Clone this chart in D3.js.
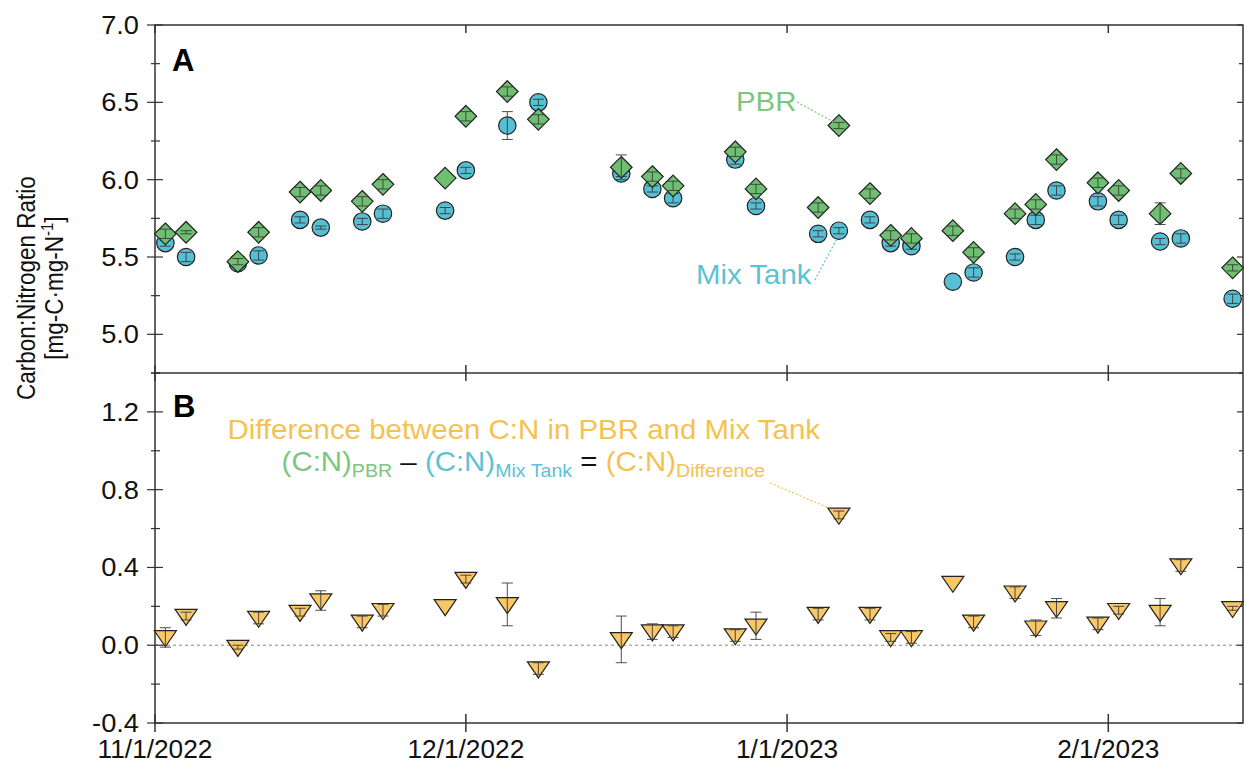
<!DOCTYPE html>
<html>
<head>
<meta charset="utf-8">
<script src="https://cdn.jsdelivr.net/npm/d3@7"></script>
<style>
  html, body { margin: 0; padding: 0; background: #fff; }
  svg { display: block; font-family: "Liberation Sans", Arial, sans-serif; }
</style>
</head>
<body>
<svg id="chart" width="1244" height="763"></svg>
<script>
// ---------------- DATA ----------------
const dates = ["2022-11-02","2022-11-04","2022-11-09","2022-11-11","2022-11-15","2022-11-17","2022-11-21","2022-11-23","2022-11-29","2022-12-01","2022-12-05","2022-12-08","2022-12-16","2022-12-19","2022-12-21","2022-12-27","2022-12-29","2023-01-04","2023-01-06","2023-01-09","2023-01-11","2023-01-13","2023-01-17","2023-01-19","2023-01-23","2023-01-25","2023-01-27","2023-01-31","2023-02-02","2023-02-06","2023-02-08","2023-02-13"];
const pbrCN = [5.65,5.66,5.47,5.66,5.92,5.93,5.86,5.97,6.01,6.41,6.57,6.39,6.08,6.02,5.96,6.18,5.94,5.82,6.35,5.91,5.64,5.62,5.67,5.53,5.78,5.84,6.13,5.98,5.93,5.78,6.04,5.43];
const pbrErr = [0.03,0.01,0.02,0.03,0.03,0.03,0.03,0.03,0.0,0.03,0.03,0.03,0.08,0.03,0.03,0.03,0.03,0.03,0.02,0.03,0.03,0.03,0.03,0.03,0.03,0.03,0.03,0.03,0.03,0.07,0.03,0.02];
const mixCN = [5.59,5.50,5.46,5.51,5.74,5.69,5.73,5.78,5.80,6.06,6.35,6.50,6.04,5.94,5.88,6.13,5.83,5.65,5.67,5.74,5.59,5.57,5.34,5.40,5.50,5.74,5.93,5.86,5.74,5.60,5.62,5.23];
const mixErr = [0.02,0.03,0.02,0.03,0.02,0.01,0.02,0.03,0.02,0.02,0.09,0.02,0.02,0.02,0.03,0.03,0.02,0.02,0.02,0.02,0.02,0.02,0.0,0.03,0.02,0.03,0.03,0.03,0.03,0.02,0.03,0.03];
const diffCN = [0.04,0.15,-0.01,0.14,0.17,0.23,0.12,0.18,0.20,0.34,0.21,-0.12,0.03,0.07,0.07,0.05,0.10,0.16,0.67,0.16,0.04,0.04,0.32,0.12,0.27,0.09,0.19,0.11,0.18,0.17,0.41,0.19];
const diffErr = [0.05,0.02,0.01,0.03,0.02,0.05,0.03,0.03,0.0,0.02,0.11,0.03,0.12,0.04,0.03,0.03,0.07,0.03,0.02,0.03,0.02,0.03,0.0,0.03,0.03,0.04,0.05,0.03,0.02,0.07,0.03,0.01];
const xTickDates = ["2022-11-01","2022-12-01","2023-01-01","2023-02-01"];
const xTickLabels = ["11/1/2022","12/1/2022","1/1/2023","2/1/2023"];
const yTicksA = [5.0,5.5,6.0,6.5,7.0];
const yTicksB = [-0.4,0.0,0.4,0.8,1.2];

// ---------------- LAYOUT ----------------
const L = 155, R = 1243, T = 25, MID = 373, B = 723;
const SX = 1.09; // horizontal stretch of the original artwork's text
const parse = d3.utcParse("%Y-%m-%d");
const svg = d3.select("#chart");

const x = d3.scaleUtc().domain([parse("2022-11-01"), parse("2023-02-14")]).range([L, R]);
const yA = d3.scaleLinear().domain([4.75, 7.0]).range([MID, T]);
const yB = d3.scaleLinear().domain([-0.4, 1.4]).range([B, MID]);

const cGreen = "#6fbf73", cBlue = "#56bfd3", cYellow = "#f7c865";
const tGreen = "#7cc67e", tBlue = "#5cc2d4", tYellow = "#f5c24f";
const axisCol = "#333";

function sText(px, py, size, anchor, sx) {
  return svg.append("g").attr("transform", `translate(${px},${py}) scale(${sx},1)`)
    .append("text").attr("x", 0).attr("y", 0).attr("font-size", size).attr("text-anchor", anchor);
}

const rows = dates.map((d, i) => ({
  date: parse(d), pbr: pbrCN[i], pe: pbrErr[i], mix: mixCN[i], me: mixErr[i], diff: diffCN[i], de: diffErr[i]
}));

// zero line in panel B
svg.append("line").attr("x1", L).attr("x2", R).attr("y1", yB(0)).attr("y2", yB(0))
  .attr("stroke", "#888").attr("stroke-width", 1).attr("stroke-dasharray", "3,3");

// ---------------- AXES ----------------
function leftAxis(scale, majors, minorStep, fmt) {
  const g = svg.append("g");
  const [d0, d1] = scale.domain();
  const minors = d3.range(d0, d1 + 1e-9, minorStep).map(v => +v.toFixed(4));
  minors.forEach(v => {
    const isMajor = majors.some(m => Math.abs(m - v) < 1e-6);
    if (!isMajor) g.append("line").attr("x1", L - 4).attr("x2", L + 5).attr("y1", scale(v)).attr("y2", scale(v))
      .attr("stroke", axisCol).attr("stroke-width", 1.2);
    g.append("line").attr("x1", R - (isMajor ? 6 : 4)).attr("x2", R).attr("y1", scale(v)).attr("y2", scale(v))
      .attr("stroke", axisCol).attr("stroke-width", 1.2);
  });
  majors.forEach(v => {
    g.append("line").attr("x1", L - 8).attr("x2", L + 8).attr("y1", scale(v)).attr("y2", scale(v))
      .attr("stroke", axisCol).attr("stroke-width", 1.2);
    sText(L - 16, scale(v) + 9, 25, "end", SX).attr("fill", "#111").text(fmt(v));
  });
}
leftAxis(yA, yTicksA, 0.25, d3.format(".1f"));
leftAxis(yB, yTicksB, 0.2, d => d3.format(".1f")(d).replace("−", "-"));

// frame
svg.append("rect").attr("x", L).attr("y", T).attr("width", R - L).attr("height", B - T)
  .attr("fill", "none").attr("stroke", axisCol).attr("stroke-width", 1.5);
svg.append("line").attr("x1", L).attr("x2", R).attr("y1", MID).attr("y2", MID)
  .attr("stroke", axisCol).attr("stroke-width", 1.5);

// x ticks
xTickDates.forEach((d, i) => {
  const xx = x(parse(d));
  svg.append("line").attr("x1", xx).attr("x2", xx).attr("y1", T).attr("y2", T + 8).attr("stroke", axisCol).attr("stroke-width", 1.5);
  svg.append("line").attr("x1", xx).attr("x2", xx).attr("y1", MID - 8).attr("y2", MID + 8).attr("stroke", axisCol).attr("stroke-width", 1.5);
  svg.append("line").attr("x1", xx).attr("x2", xx).attr("y1", B - 9).attr("y2", B + 9).attr("stroke", axisCol).attr("stroke-width", 1.5);
  sText(xx, 758, 25, "middle", 1.05).attr("fill", "#111").text(xTickLabels[i]);
});

// y title (rotated; artwork stretch shows as taller glyphs)
const yt = svg.append("g").attr("transform", "translate(0,288) scale(1.12,1) rotate(-90)")
  .attr("font-size", 22.5).attr("fill", "#111").attr("text-anchor", "middle");
yt.append("text").attr("x", 0).attr("y", 31).text("Carbon:Nitrogen Ratio");
const t2 = yt.append("text").attr("x", 0).attr("y", 56);
t2.append("tspan").text("[mg-C·mg-N");
t2.append("tspan").attr("font-size", 15).attr("dy", -9).text("-1");
t2.append("tspan").attr("dy", 9).text("]");

// panel letters
svg.append("text").attr("x", 172).attr("y", 71).attr("font-size", 31).attr("font-weight", "bold").attr("fill", "#000").text("A");
svg.append("text").attr("x", 173).attr("y", 417).attr("font-size", 31).attr("font-weight", "bold").attr("fill", "#000").text("B");

// ---------------- MARKS ----------------
function errBars(g, data, scale, key, ekey) {
  g.selectAll(null).data(data.filter(d => d[ekey] > 0)).join("g").each(function(d) {
    const s = d3.select(this), xx = x(d.date);
    const y0 = scale(d[key] - d[ekey]), y1 = scale(d[key] + d[ekey]);
    s.append("line").attr("x1", xx).attr("x2", xx).attr("y1", y0).attr("y2", y1);
    s.append("line").attr("x1", xx - 5.5).attr("x2", xx + 5.5).attr("y1", y0).attr("y2", y0);
    s.append("line").attr("x1", xx - 5.5).attr("x2", xx + 5.5).attr("y1", y1).attr("y2", y1);
  }).attr("stroke", "#3a3a3a").attr("stroke-width", 0.9);
}

const gA = svg.append("g");
gA.selectAll("circle").data(rows).join("circle")
  .attr("cx", d => x(d.date)).attr("cy", d => yA(d.mix)).attr("r", 8.7)
  .attr("fill", cBlue).attr("stroke", "#222").attr("stroke-width", 1.2);
errBars(gA.append("g"), rows, yA, "mix", "me");
gA.append("g").selectAll("path").data(rows).join("path")
  .attr("d", d => { const xx = x(d.date), yy = yA(d.pbr), s = 10.8;
    return `M${xx},${yy - s}L${xx + s},${yy}L${xx},${yy + s}L${xx - s},${yy}Z`; })
  .attr("fill", cGreen).attr("stroke", "#222").attr("stroke-width", 1.2);
errBars(gA.append("g"), rows, yA, "pbr", "pe");

const gB = svg.append("g");
gB.selectAll("path").data(rows).join("path")
  .attr("d", d => { const xx = x(d.date), yy = yB(d.diff), w = 11, h = 16;
    return `M${xx - w},${yy - h * 0.42}L${xx + w},${yy - h * 0.42}L${xx},${yy + h * 0.58}Z`; })
  .attr("fill", cYellow).attr("stroke", "#222").attr("stroke-width", 1.2);
errBars(gB.append("g"), rows, yB, "diff", "de");

// ---------------- ANNOTATIONS ----------------
const iPBR = 18; // 1/6/2023 point
sText(736, 111, 27, "start", SX).attr("fill", tGreen).text("PBR");
svg.append("line").attr("x1", 797).attr("y1", 102).attr("x2", x(rows[iPBR].date) - 6).attr("y2", yA(rows[iPBR].pbr) - 4)
  .attr("stroke", tGreen).attr("stroke-width", 1.2).attr("stroke-dasharray", "2,2");

sText(696, 284, 27, "start", SX).attr("fill", tBlue).text("Mix Tank");
svg.append("line").attr("x1", 815).attr("y1", 280).attr("x2", x(rows[iPBR].date) - 2).attr("y2", yA(rows[iPBR].mix) + 8)
  .attr("stroke", tBlue).attr("stroke-width", 1.2).attr("stroke-dasharray", "2,2");

sText(820, 439, 27, "end", SX).attr("fill", tYellow).text("Difference between C:N in PBR and Mix Tank");
const f = sText(765, 471, 27, "end", SX);
f.append("tspan").attr("fill", tGreen).text("(C:N)");
f.append("tspan").attr("fill", tGreen).attr("font-size", 18).attr("dy", 6).text("PBR");
f.append("tspan").attr("fill", "#111").attr("dy", -6).text(" – ");
f.append("tspan").attr("fill", tBlue).text("(C:N)");
f.append("tspan").attr("fill", tBlue).attr("font-size", 18).attr("dy", 6).text("Mix Tank");
f.append("tspan").attr("fill", "#111").attr("dy", -6).text(" = ");
f.append("tspan").attr("fill", tYellow).text("(C:N)");
f.append("tspan").attr("fill", tYellow).attr("font-size", 18).attr("dy", 6).text("Difference");
svg.append("line").attr("x1", 770).attr("y1", 483).attr("x2", x(rows[iPBR].date) - 10).attr("y2", yB(rows[iPBR].diff) - 7)
  .attr("stroke", tYellow).attr("stroke-width", 1.2).attr("stroke-dasharray", "2,2");
</script>
</body>
</html>
